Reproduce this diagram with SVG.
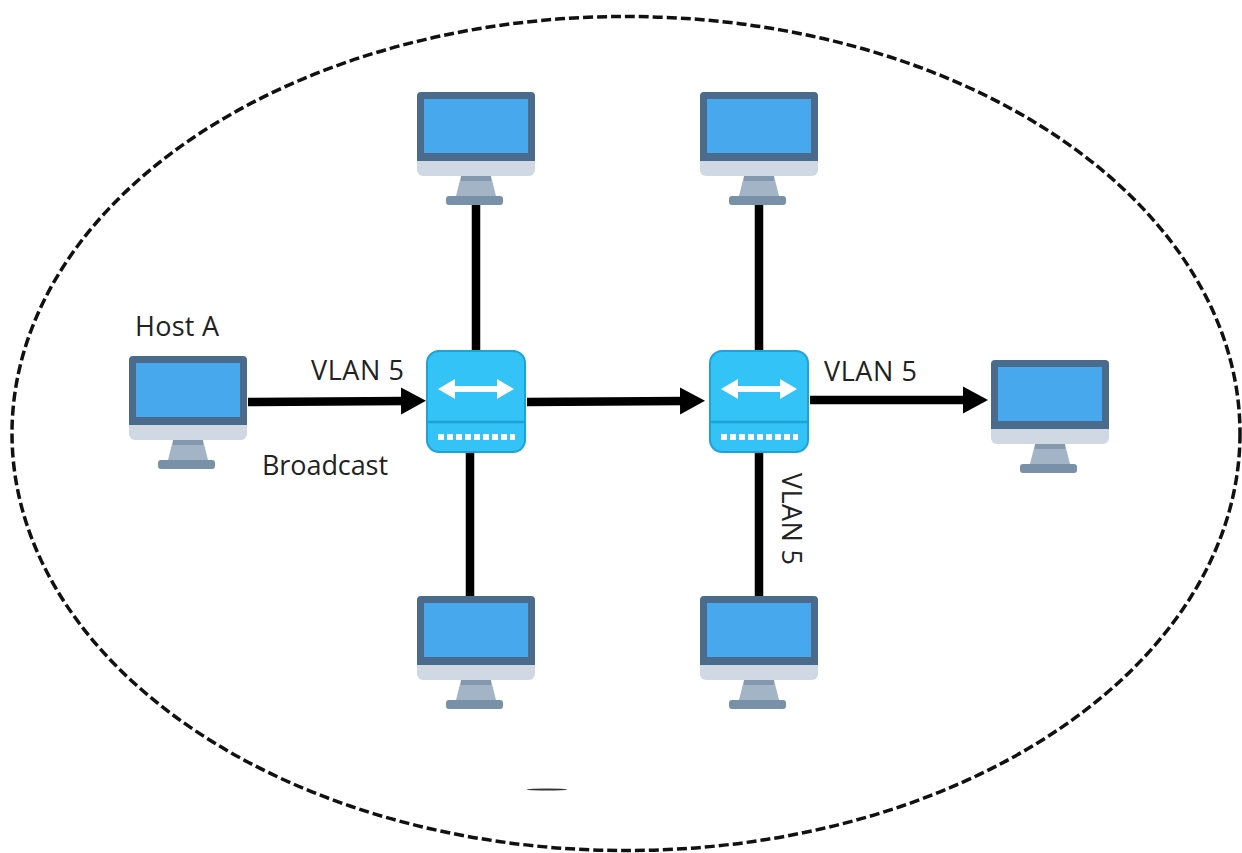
<svg xmlns="http://www.w3.org/2000/svg" width="1242" height="853" viewBox="0 0 1242 853">
<style>
.lbl{font-family:"Open Sans","Noto Sans","Liberation Sans",sans-serif;font-size:27px;fill:#222}
.wire{stroke:#000;stroke-width:8.500;fill:none}
.arrow{stroke:#000;stroke-width:8.500;fill:none;marker-end:url(#ah)}
</style>
<defs>
<marker id="ah" markerUnits="userSpaceOnUse" markerWidth="26" markerHeight="28" refX="4" refY="14" orient="auto">
<path d="M0 0.500L25 14L0 27.500Z" fill="#000"/>
</marker>
<symbol id="pc" width="118" height="113" viewBox="0 0 118 113" overflow="visible">
<path d="M0 68H118V78a6 6 0 0 1-6 6H6a6 6 0 0 1-6-6Z" fill="#d0d9e3"/>
<path d="M4 0H114a4 4 0 0 1 4 4V69H0V4a4 4 0 0 1 4-4Z" fill="#4a6b8c"/>
<rect x="7" y="7" width="104" height="54" fill="#47a8ee"/>
<path d="M44 84H74L79 104H39Z" fill="#a3b4c6"/>
<rect x="44" y="84" width="30" height="5" fill="#8599ae"/>
<rect x="29" y="104" width="57" height="9" rx="3" fill="#7890a8"/>
</symbol>
<symbol id="sw" width="100" height="103" viewBox="0 0 100 103" overflow="visible">
<rect x="1" y="1" width="98" height="101" rx="12" fill="#33c3f6" stroke="#1ea3d8" stroke-width="2"/>
<path d="M1 72H99" stroke="#1ea3d8" stroke-width="2.500"/>
<path d="M12 39L29 29V36H71V29L88 39L71 49V42H29V49Z" fill="#fff"/>
<path d="M12 87H89" stroke="#fff" stroke-width="6" stroke-dasharray="6 3"/>
</symbol>
</defs>
<rect width="1242" height="853" fill="#fff"/>
<ellipse id="boundary" cx="626" cy="433.500" rx="614" ry="417" fill="none" stroke="#111" stroke-width="3.500" stroke-dasharray="10 4"/>
<ellipse cx="547" cy="789.500" rx="20" ry="1" fill="#333"/>
<g id="connectors">
<path class="wire" d="M476 200V352"/>
<path class="wire" d="M759 200V352"/>
<path class="wire" d="M470 452V600"/>
<path class="wire" d="M759 452V600"/>
<path class="arrow" d="M248 402L405 401"/>
<path class="arrow" d="M527 402L684 401"/>
<path class="arrow" d="M810 400L967 400"/>
</g>
<g id="host-a"><use href="#pc" x="129" y="356"/><text class="lbl" x="135" y="336" textLength="84">Host A</text></g>
<g id="pc-top-left"><use href="#pc" x="417" y="92"/></g>
<g id="pc-top-right"><use href="#pc" x="700" y="92"/></g>
<g id="pc-right"><use href="#pc" x="991" y="360"/></g>
<g id="pc-bottom-left"><use href="#pc" x="417" y="596"/></g>
<g id="pc-bottom-right"><use href="#pc" x="700" y="596"/></g>
<g id="switch-1"><use href="#sw" x="426" y="350"/></g>
<g id="switch-2"><use href="#sw" x="709" y="350"/></g>
<g id="labels">
<text class="lbl" x="311" y="380" textLength="93">VLAN 5</text>
<text class="lbl" x="262" y="475" textLength="126">Broadcast</text>
<text class="lbl" x="824" y="381" textLength="93">VLAN 5</text>
<text class="lbl" transform="translate(782 473) rotate(90)" textLength="92">VLAN 5</text>
</g>
</svg>
